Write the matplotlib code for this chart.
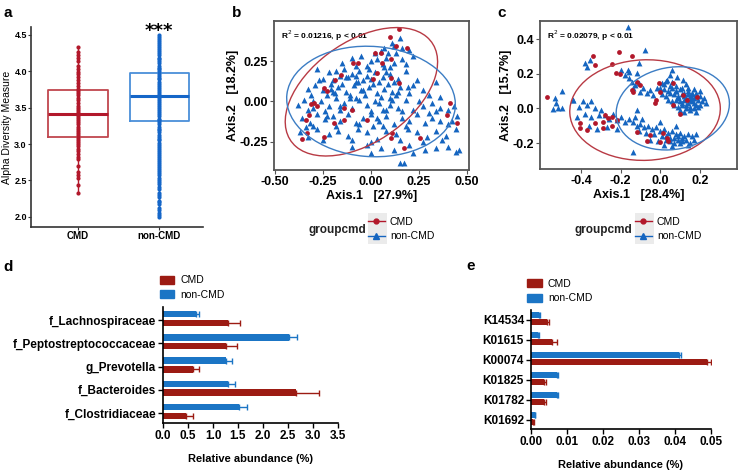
import matplotlib
matplotlib.use('Agg')
import matplotlib.pyplot as plt
from matplotlib.patches import Ellipse, Patch, Rectangle
from matplotlib.lines import Line2D
import numpy as np

plt.rcParams['font.family'] = ['Liberation Sans', 'DejaVu Sans']

# ---------------- data ----------------
groups = ['CMD', 'non-CMD']

# panel a: alpha diversity
alpha_cmd = [4.33, 4.27, 4.22, 4.19, 4.14, 4.08, 4.03, 3.99, 3.96, 3.92, 3.88, 3.84,
             3.80, 3.76, 3.73, 3.70, 3.67, 3.63, 3.60, 3.56, 3.53, 3.50, 3.47, 3.44,
             3.42, 3.39, 3.36, 3.33, 3.30, 3.27, 3.24, 3.21, 3.18, 3.15, 3.12, 3.09,
             3.06, 3.03, 3.00, 2.97, 2.93, 2.90, 2.86, 2.82, 2.79, 2.70, 2.62, 2.57,
             2.53, 2.44, 2.33]
alpha_non = [2.00, 2.02, 2.05, 2.10, 2.12, 2.18, 2.20, 2.22, 2.27, 2.30, 2.33, 2.38,
             2.41, 2.45, 2.48, 2.51, 2.54, 2.57, 2.60, 2.63, 2.66, 2.68, 2.71, 2.74,
             2.77, 2.80, 2.82, 2.85, 2.88, 2.91, 2.93, 2.96, 2.99, 3.02, 3.05, 3.07,
             3.10, 3.13, 3.16, 3.19, 3.21, 3.24, 3.27, 3.30, 3.33, 3.35, 3.38, 3.41,
             3.44, 3.47, 3.49, 3.52, 3.55, 3.58, 3.61, 3.63, 3.66, 3.69, 3.72, 3.75,
             3.77, 3.80, 3.83, 3.86, 3.89, 3.91, 3.94, 3.97, 4.00, 4.03, 4.05, 4.08,
             4.11, 4.14, 4.17, 4.19, 4.22, 4.25, 4.28, 4.31, 4.33, 4.36, 4.39, 4.42,
             4.45, 4.47, 4.50]
box_q1 = [3.10, 3.32]
box_med = [3.42, 3.66]
box_q3 = [3.75, 3.98]

# panel b: PCoA (Axis.1 27.9%, Axis.2 18.2%)
b_cmd_x = [0.146, 0.101, 0.132, 0.189, 0.054, 0.019, -0.066, -0.094, 0.059, 0.106,
           -0.158, -0.187, 0.033, 0.103, 0.009, 0.146, -0.245, -0.229, -0.297, -0.314,
           -0.279, -0.323, -0.340, -0.335, -0.357, -0.245, -0.097, -0.140, -0.192, -0.140,
           -0.019, 0.111, 0.106, 0.172, 0.254, 0.393, 0.445, 0.410]
b_cmd_y = [0.447, 0.400, 0.343, 0.332, 0.297, 0.301, 0.240, 0.240, 0.236, 0.260,
           0.164, 0.133, 0.174, 0.143, 0.137, 0.112, 0.081, 0.067, -0.011, -0.018,
           -0.028, -0.083, -0.114, -0.197, -0.232, -0.221, -0.053, -0.114, -0.135, -0.042,
           -0.114, -0.197, -0.227, -0.289, -0.227, -0.083, -0.135, -0.011]
b_non_x = [0.15, 0.11, 0.12, 0.07, 0.16, 0.20, 0.05, 0.09, 0.02, 0.13,
           -0.10, -0.05, 0.00, 0.03, 0.08, 0.12, 0.16, 0.22, -0.15, -0.02, 0.06, 0.18, -0.08, 0.10,
           -0.28, -0.22, -0.18, -0.14, -0.10, -0.06, -0.02, 0.02, 0.06, 0.10, 0.14, 0.18,
           -0.25, -0.20, -0.12, -0.04, 0.04, 0.12, 0.24, 0.34, -0.16, 0.00, 0.08, -0.08,
           -0.33, -0.29, -0.25, -0.21, -0.17, -0.13, -0.09, -0.05, -0.01, 0.03, 0.07, 0.11,
           0.15, 0.20, 0.27, -0.31, -0.23, -0.19, -0.11, -0.03, 0.05, 0.13, 0.22, 0.30,
           0.36, -0.15, -0.07, 0.01, 0.09,
           -0.38, -0.35, -0.30, -0.26, -0.22, -0.18, -0.14, -0.10, -0.06, -0.02, 0.02, 0.06,
           0.10, 0.14, 0.18, 0.22, 0.27, 0.32, 0.36, 0.40, -0.33, -0.24, -0.16, -0.08,
           0.00, 0.08, 0.16, 0.25, 0.34, 0.43,
           -0.36, -0.32, -0.28, -0.24, -0.20, -0.16, -0.12, -0.08, -0.04, 0.00, 0.04, 0.08,
           0.12, 0.16, 0.20, 0.24, 0.28, 0.32, 0.36, 0.40, 0.45, -0.30, -0.18, -0.06,
           0.06, 0.18, 0.30, 0.42,
           -0.37, -0.33, -0.28, -0.22, -0.17, -0.12, -0.07, -0.02, 0.03, 0.08, 0.13, 0.19,
           0.24, 0.29, 0.34, 0.39, 0.44, -0.25, -0.10, 0.00, 0.15, 0.27, 0.37,
           -0.10, -0.02, 0.05, 0.12, 0.20, 0.28, 0.34, 0.40, 0.44, 0.46, 0.15, 0.17, 0.00, 0.22,
           -0.20, -0.11, -0.04, 0.04, 0.10, -0.27, -0.13, -0.01, 0.07, -0.23, -0.16, 0.03,
           -0.30, -0.08, 0.11, 0.19, -0.34, -0.21, 0.01, 0.14]
b_non_y = [0.39, 0.36, 0.34, 0.33, 0.33, 0.32, 0.31, 0.30, 0.30, 0.30,
           0.27, 0.28, 0.25, 0.26, 0.27, 0.24, 0.26, 0.28, 0.24, 0.22, 0.23, 0.23, 0.22, 0.21,
           0.20, 0.18, 0.19, 0.20, 0.17, 0.19, 0.16, 0.18, 0.15, 0.17, 0.14, 0.19,
           0.14, 0.13, 0.15, 0.13, 0.12, 0.12, 0.13, 0.12, 0.16, 0.14, 0.18, 0.12,
           0.08, 0.10, 0.07, 0.11, 0.09, 0.06, 0.10, 0.07, 0.09, 0.05, 0.08, 0.06,
           0.09, 0.05, 0.07, 0.04, 0.04, 0.05, 0.04, 0.04, 0.03, 0.04, 0.10, 0.04,
           0.03, 0.11, 0.12, 0.11, 0.11,
           -0.02, 0.01, -0.04, 0.00, -0.03, 0.02, -0.01, -0.04, 0.01, -0.02, 0.00, -0.05,
           -0.02, -0.04, 0.01, -0.05, -0.03, -0.01, -0.04, -0.05, -0.05, -0.06, -0.05, 0.02,
           -0.06, -0.05, -0.06, 0.00, -0.06, -0.03,
           -0.10, -0.13, -0.08, -0.11, -0.09, -0.12, -0.08, -0.13, -0.10, -0.08, -0.12, -0.09,
           -0.14, -0.10, -0.12, -0.08, -0.13, -0.10, -0.12, -0.14, -0.09, -0.15, -0.15, -0.14,
           -0.15, -0.15, -0.07, -0.12,
           -0.19, -0.22, -0.17, -0.20, -0.18, -0.21, -0.17, -0.19, -0.23, -0.18, -0.20, -0.17,
           -0.19, -0.22, -0.18, -0.21, -0.17, -0.24, -0.24, -0.25, -0.24, -0.25, -0.24,
           -0.28, -0.27, -0.29, -0.30, -0.27, -0.30, -0.29, -0.28, -0.31, -0.30, -0.38, -0.38, -0.32, -0.32,
           0.06, 0.02, 0.07, -0.01, 0.02, 0.13, 0.15, 0.20, 0.21, -0.09, -0.03, -0.10,
           0.00, 0.16, 0.01, 0.09, -0.16, 0.08, -0.15, 0.06]
# 95% ellipses: centre x, centre y, width, height, angle
b_ell_cmd = [-0.05, 0.06, 0.96, 0.58, 45]
b_ell_non = [0.00, 0.00, 0.88, 0.68, -6]

# panel c: PCoA (Axis.1 28.4%, Axis.2 15.7%)
c_cmd_x = [-0.570, -0.208, -0.144, -0.341, -0.329, -0.245, -0.223, -0.203, -0.119, -0.144,
           -0.136, -0.102, -0.021, -0.026, 0.066, -0.009, -0.001, -0.279, -0.262, -0.245,
           -0.220, -0.287, -0.405, -0.371, -0.405, -0.329, -0.287, -0.245, -0.119, 0.016,
           0.033, -0.001, 0.041, -0.051, -0.068, 0.100, 0.134, 0.184, 0.117, 0.066]
c_cmd_y = [0.063, 0.323, 0.302, 0.302, 0.250, 0.254, 0.202, 0.198, 0.154, 0.105,
           0.096, 0.134, 0.048, 0.028, 0.144, 0.144, 0.096, -0.039, -0.058, -0.049,
           -0.068, -0.078, -0.116, -0.126, -0.083, -0.083, -0.116, -0.103, -0.135, -0.145,
           -0.174, -0.193, -0.187, -0.155, -0.187, -0.030, 0.048, 0.067, 0.076, 0.019]
c_non_x = [-0.531, -0.498, -0.526, -0.540, -0.514, -0.498, -0.442,
           -0.161, -0.075, -0.380, -0.354, -0.371, -0.105,
           -0.178, -0.156, -0.144, -0.127, -0.110, -0.139, -0.102, -0.085, -0.068, -0.051,
           -0.035, -0.018, 0.008, 0.033, 0.058, 0.083, 0.117, 0.050, -0.161, -0.119, -0.20, -0.16,
           0.00, 0.02, 0.04, 0.06, 0.08, 0.10, 0.12, 0.14, 0.16, 0.18, 0.20, 0.22,
           0.01, 0.03, 0.05, 0.07, 0.09, 0.11, 0.13, 0.15, 0.17, 0.19, 0.21, 0.23,
           0.04, 0.06, 0.08, 0.10, 0.12, 0.14, 0.16, 0.18, 0.20,
           0.07, 0.09, 0.11, 0.13, 0.15, 0.17, 0.19,
           0.02, 0.05, 0.08, 0.11, 0.14, 0.17, 0.20,
           0.10, 0.12, 0.15, 0.18, 0.06, 0.03, 0.13, 0.16,
           0.09, 0.12, 0.15, 0.18, 0.11, 0.14, 0.17, 0.08, 0.13, 0.16,
           -0.14, -0.12, -0.10, -0.08, -0.06, -0.04, -0.02, 0.00, 0.02, 0.04, 0.06, 0.08,
           0.10, 0.12, 0.14, 0.16, 0.18,
           -0.11, -0.07, -0.03, 0.01, 0.05, 0.09, 0.13, 0.17,
           -0.05, -0.01, 0.03, 0.07, 0.11, 0.15,
           0.02, 0.06, 0.10, 0.14, -0.09, -0.13, 0.00, 0.08,
           0.03, 0.07, 0.11, 0.05, 0.09,
           -0.44, -0.41, -0.39, -0.37, -0.35, -0.33, -0.30, -0.38, -0.35, -0.31, -0.42, -0.28,
           -0.26, -0.24, -0.22, -0.20, -0.18, -0.16, -0.36, -0.32, -0.27, -0.22, -0.14, -0.12]
c_non_y = [0.057, 0.101, 0.028, -0.006, 0.000, 0.000, 0.051,
           0.468, 0.337, 0.263, 0.279, 0.240, 0.263,
           0.192, 0.173, 0.154, 0.134, 0.144, 0.115, 0.096, 0.115, 0.086, 0.105,
           0.076, 0.115, 0.144, 0.163, 0.221, 0.182, 0.163, 0.192, 0.221, 0.202, 0.22, 0.21,
           0.12, 0.11, 0.10, 0.12, 0.10, 0.11, 0.09, 0.10, 0.08, 0.09, 0.07, 0.06,
           0.08, 0.07, 0.09, 0.08, 0.07, 0.08, 0.06, 0.07, 0.06, 0.05, 0.04, 0.03,
           0.05, 0.04, 0.05, 0.04, 0.05, 0.03, 0.04, 0.02, 0.02,
           0.02, 0.01, 0.02, 0.00, 0.01, 0.00, 0.01,
           0.14, 0.13, 0.13, 0.12, 0.12, 0.11, 0.10,
           -0.01, -0.02, -0.01, -0.02, 0.15, 0.16, 0.14, 0.06,
           0.06, 0.07, 0.05, 0.07, 0.03, 0.08, 0.03, 0.10, 0.02, 0.09,
           -0.08, -0.10, -0.09, -0.11, -0.10, -0.12, -0.11, -0.13, -0.12, -0.14, -0.13, -0.15,
           -0.14, -0.16, -0.15, -0.16, -0.15,
           -0.13, -0.14, -0.15, -0.16, -0.17, -0.16, -0.18, -0.18,
           -0.18, -0.19, -0.18, -0.20, -0.19, -0.20,
           -0.21, -0.22, -0.20, -0.21, -0.06, -0.05, -0.08, -0.10,
           -0.16, -0.17, -0.17, -0.19, -0.18,
           0.05, 0.01, 0.04, 0.02, 0.04, 0.00, -0.01, -0.03, -0.05, -0.04, -0.05, -0.04,
           -0.06, -0.03, -0.07, -0.05, -0.08, -0.06, -0.10, -0.12, -0.11, -0.12, -0.25, -0.01]
c_ell_cmd = [-0.077, -0.01, 0.76, 0.58, 3]
c_ell_non = [0.063, 0.00, 0.58, 0.47, 17]

# panel d: taxa relative abundance (%), listed top to bottom
taxa = ['f_Lachnospiraceae', 'f_Peptostreptococcaceae', 'g_Prevotella',
        'f_Bacteroides', 'f_Clostridiaceae']
taxa_cmd = [1.30, 1.25, 0.60, 2.66, 0.46]
taxa_cmd_err = [0.24, 0.22, 0.12, 0.46, 0.14]
taxa_non = [0.66, 2.51, 1.26, 1.29, 1.51]
taxa_non_err = [0.06, 0.16, 0.12, 0.14, 0.16]

# panel e: KO relative abundance (%), listed top to bottom
kos = ['K14534', 'K01615', 'K00074', 'K01825', 'K01782', 'K01692']
ko_cmd = [0.0044, 0.0058, 0.0490, 0.0036, 0.0037, 0.0006]
ko_cmd_err = [0.0005, 0.0013, 0.0010, 0.0006, 0.0006, 0.0001]
ko_non = [0.0022, 0.0020, 0.0411, 0.0072, 0.0072, 0.0011]
ko_non_err = [0.0003, 0.0002, 0.0006, 0.0002, 0.0002, 0.0001]

# ---------------- styling ----------------
W, H = 740, 471
RED_A, BLUE_A = '#B2182B', '#1566C8'
RED_S, BLUE_S = '#B2182B', '#1565C0'
RED_B, BLUE_B = '#9C1B13', '#1B75C5'

fig = plt.figure(figsize=(7.4, 4.71), dpi=100)


def px_axes(l, t, r, b):
    return fig.add_axes([l / W, 1 - b / H, (r - l) / W, (b - t) / H])


def panel_label(x, y, s):
    fig.text(x / W, 1 - y / H, s, fontsize=11, fontweight='bold', va='center', ha='left')


# ---------------- panel a ----------------
ax = px_axes(31, 27, 203, 227)
for i, (vals, col, edge) in enumerate([(alpha_cmd, RED_A, '#C0474E'),
                                       (alpha_non, BLUE_A, '#4A8FD9')]):
    st = dict(med=box_med[i], q1=box_q1[i], q3=box_q3[i],
              whislo=min(vals), whishi=max(vals), fliers=[])
    ax.bxp([st], positions=[i + 1], widths=0.73, showcaps=False, showfliers=False,
           boxprops=dict(color=edge, linewidth=1.3),
           whiskerprops=dict(color=col, linewidth=1.0),
           medianprops=dict(color=col, linewidth=2.2))
    ax.scatter(np.full(len(vals), i + 1), vals, s=9, color=col, zorder=3, linewidths=0)
ax.set_xlim(0.42, 2.54)
ax.set_ylim(1.86, 4.61)
ax.set_yticks([2.0, 2.5, 3.0, 3.5, 4.0, 4.5])
ax.set_yticklabels(['2.0', '2.5', '3.0', '3.5', '4.0', '4.5'], fontweight='bold', fontsize=6.5)
ax.set_xticks([1, 2])
ax.set_xticklabels(groups, fontweight='bold', fontsize=7)
ax.set_ylabel('Alpha Diversity Measure', fontsize=7.5)
ax.yaxis.set_label_coords(-0.108, 0.5)
for s in ['top', 'right']:
    ax.spines[s].set_visible(False)
for s in ['left', 'bottom']:
    ax.spines[s].set_color('#333333')
    ax.spines[s].set_linewidth(1.2)
ax.tick_params(length=2, color='#333333', pad=1)
ax.text(2, 4.56, '***', ha='center', va='center', fontsize=13, fontweight='bold',
        family='DejaVu Sans', clip_on=False)
panel_label(3, 13, 'a')


# ---------------- panels b, c ----------------
def pcoa(ax, cx, cy, nx, ny, ell_c, ell_n, xt, xtl, yt, ytl, xlim, ylim, xlab, ylab, stat):
    ax.scatter(nx, ny, marker='^', s=18, color=BLUE_S, linewidths=0, zorder=2)
    ax.scatter(cx, cy, marker='o', s=12, color=RED_S, linewidths=0, zorder=3)
    for e, col in [(ell_c, '#B83A44'), (ell_n, '#3C7DC4')]:
        ax.add_patch(Ellipse((e[0], e[1]), e[2], e[3], angle=e[4], fill=False,
                             edgecolor=col, linewidth=1.0, zorder=4))
    ax.set_xlim(*xlim)
    ax.set_ylim(*ylim)
    ax.set_xticks(xt)
    ax.set_xticklabels(xtl, fontweight='bold', fontsize=9)
    ax.set_yticks(yt)
    ax.set_yticklabels(ytl, fontweight='bold', fontsize=9)
    ax.set_xlabel(xlab, fontweight='bold', fontsize=9, labelpad=1)
    ax.set_ylabel(ylab, fontweight='bold', fontsize=9, labelpad=0)
    for s in ax.spines.values():
        s.set_color('#555555')
        s.set_linewidth(1.3)
    ax.tick_params(length=3, color='#555555', pad=1.5)
    ax.text(0.036, 0.9, stat, transform=ax.transAxes, fontsize=6, fontweight='bold',
            ha='left', va='center')


ax_b = px_axes(274, 21, 469, 170)
pcoa(ax_b, b_cmd_x, b_cmd_y, b_non_x, b_non_y, b_ell_cmd, b_ell_non,
     [-0.5, -0.25, 0, 0.25, 0.5], ['-0.50', '-0.25', '0.00', '0.25', '0.50'],
     [-0.25, 0, 0.25], ['-0.25', '0.00', '0.25'],
     (-0.505, 0.51), (-0.423, 0.497), 'Axis.1   [27.9%]', 'Axis.2   [18.2%]',
     r'R$^2$ = 0.01216, p < 0.01')
panel_label(232, 13, 'b')

ax_c = px_axes(540, 21, 737, 169)
pcoa(ax_c, c_cmd_x, c_cmd_y, c_non_x, c_non_y, c_ell_cmd, c_ell_non,
     [-0.4, -0.2, 0.0, 0.2], ['-0.4', '-0.2', '0.0', '0.2'],
     [-0.2, 0.0, 0.2, 0.4], ['-0.2', '0.0', '0.2', '0.4'],
     (-0.607, 0.387), (-0.35, 0.504), 'Axis.1   [28.4%]', 'Axis.2   [15.7%]',
     r'R$^2$ = 0.02079, p < 0.01')
panel_label(497, 13, 'c')

# groupcmd legends
leg_handles = [Line2D([0], [0], color=RED_S, marker='o', markersize=3.5, lw=1.0),
               Line2D([0], [0], color=BLUE_S, marker='^', markersize=4.5, lw=1.0)]
for title_x, key_x in [(337, 368), (603, 635)]:
    fig.text(title_x / W, 1 - 230 / H, 'groupcmd', ha='center', va='center',
             fontweight='bold', fontsize=8.5, color='#222222')
    fig.add_artist(Rectangle((key_x / W, 1 - 244 / H), 19 / W, 31 / H,
                             transform=fig.transFigure, facecolor='#EBEBEB',
                             edgecolor='none', zorder=0))
    fig.legend(leg_handles, groups, loc='center left', frameon=False,
               bbox_to_anchor=(key_x / W, 1 - 229 / H), handlelength=1.6,
               handletextpad=0.5, labelspacing=0.45, borderpad=0, borderaxespad=0,
               prop=dict(size=7.5))


# ---------------- panels d, e ----------------
def hbars(ax, labels, cmd, cmd_err, non, non_err, height, leg_anchor):
    pos = np.arange(len(labels))[::-1]
    ax.barh(pos + 0.25, non, height=height, color=BLUE_B, zorder=2)
    ax.barh(pos - 0.12, cmd, height=height, color=RED_B, zorder=2)
    ax.errorbar(non, pos + 0.25, xerr=[np.zeros(len(non)), non_err], fmt='none',
                ecolor=BLUE_B, elinewidth=1.0, capsize=2.2, capthick=1.0, zorder=1)
    ax.errorbar(cmd, pos - 0.12, xerr=[np.zeros(len(cmd)), cmd_err], fmt='none',
                ecolor=RED_B, elinewidth=1.0, capsize=2.2, capthick=1.0, zorder=1)
    ax.set_yticks(pos)
    ax.set_yticklabels(labels, fontweight='bold', fontsize=8.5)
    for s in ['top', 'right']:
        ax.spines[s].set_visible(False)
    for s in ['left', 'bottom']:
        ax.spines[s].set_linewidth(1.2)
    ax.tick_params(length=3.5, width=1.0, pad=1.5)
    ax.set_xlabel('Relative abundance (%)', fontweight='bold', fontsize=8, labelpad=9)
    ax.legend([Patch(color=RED_B), Patch(color=BLUE_B)], groups, loc='lower left',
              bbox_to_anchor=leg_anchor, frameon=False, handlelength=1.4,
              handleheight=0.8, handletextpad=0.6, labelspacing=0.45, borderpad=0,
              borderaxespad=0, fontsize=7.5)


ax_d = px_axes(163, 307, 338, 423)
hbars(ax_d, taxa, taxa_cmd, taxa_cmd_err, taxa_non, taxa_non_err, 0.28, (-0.02, 1.06))
ax_d.set_xlim(0, 3.5)
ax_d.set_ylim(-0.43, 4.56)
ax_d.set_xticks([0, 0.5, 1.0, 1.5, 2.0, 2.5, 3.0, 3.5])
ax_d.set_xticklabels(['0.0', '0.5', '1.0', '1.5', '2.0', '2.5', '3.0', '3.5'],
                     fontweight='bold', fontsize=8.5)
panel_label(3, 267, 'd')

ax_e = px_axes(531, 310, 711, 429)
hbars(ax_e, kos, ko_cmd, ko_cmd_err, ko_non, ko_non_err, 0.3, (-0.022, 1.055))
ax_e.set_xlim(0, 0.05)
ax_e.set_ylim(-0.45, 5.5)
ax_e.set_xticks([0, 0.01, 0.02, 0.03, 0.04, 0.05])
ax_e.set_xticklabels(['0.00', '0.01', '0.02', '0.03', '0.04', '0.05'],
                     fontweight='bold', fontsize=8.5)
panel_label(466, 266, 'e')

fig.savefig('out.png', dpi=100)
